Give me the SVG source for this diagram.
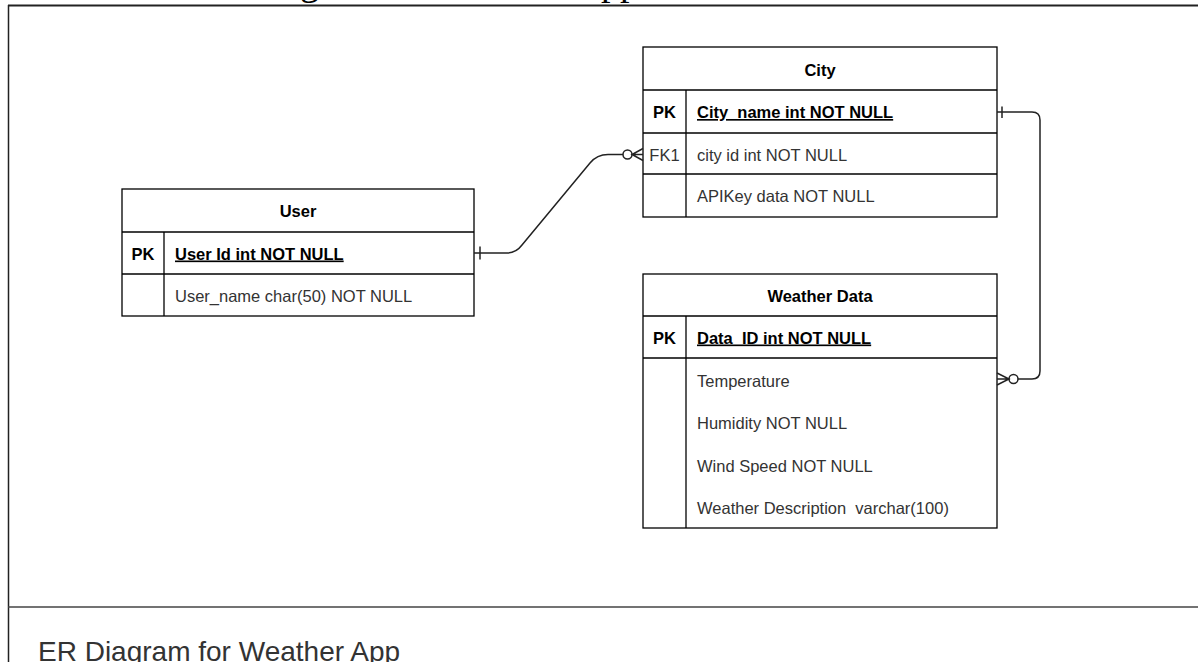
<svg xmlns="http://www.w3.org/2000/svg" width="1198" height="662" viewBox="0 0 1198 662">
<style>
.box{fill:#fff;stroke:#000;stroke-width:1.3}
.ln{fill:none;stroke:#000;stroke-width:1.3}
.hd{font-family:"Liberation Sans",Arial,sans-serif;font-size:16.5px;font-weight:bold;fill:#000;text-anchor:middle}
.pk{font-family:"Liberation Sans",Arial,sans-serif;font-size:16.5px;font-weight:bold;fill:#000}
.tx{font-family:"Liberation Sans",Arial,sans-serif;font-size:16.5px;fill:#333}
.mid{text-anchor:middle}
.u{text-decoration:underline}
.conn{fill:none;stroke:#222;stroke-width:1.5}
</style>
<rect width="1198" height="662" fill="#fff"/>
<g id="frame">
<text x="187" y="-5.5" font-family="Liberation Serif,Times New Roman,serif" font-size="38" fill="#000">ER Diagram for Weather App</text>
<line x1="8" y1="5.5" x2="1198" y2="5.5" stroke="#222" stroke-width="2"/>
<line x1="8.5" y1="5" x2="8.5" y2="662" stroke="#222" stroke-width="1.5"/>
<line x1="8" y1="607" x2="1198" y2="607" stroke="#444" stroke-width="1.5"/>
<text x="38" y="661" font-family="Liberation Sans,Arial,sans-serif" font-size="28" fill="#333">ER Diagram for Weather App</text>
</g>
<g id="city">
<rect class="box" x="643" y="47" width="354" height="170"/>
<line class="ln" x1="643" y1="90" x2="997" y2="90"/>
<line class="ln" x1="643" y1="133" x2="997" y2="133"/>
<line class="ln" x1="643" y1="174" x2="997" y2="174"/>
<line class="ln" x1="686" y1="90" x2="686" y2="217"/>
<text class="hd" x="820" y="76">City</text>
<text class="pk mid" x="664.5" y="118">PK</text>
<text class="pk u" x="697" y="118">City_name int NOT NULL</text>
<text class="tx mid" x="664.5" y="160.5">FK1</text>
<text class="tx" x="697" y="160.5">city id int NOT NULL</text>
<text class="tx" x="697" y="202">APIKey data NOT NULL</text>
</g>
<g id="user">
<rect class="box" x="122" y="189" width="352" height="127"/>
<line class="ln" x1="122" y1="232" x2="474" y2="232"/>
<line class="ln" x1="122" y1="274" x2="474" y2="274"/>
<line class="ln" x1="164" y1="232" x2="164" y2="316"/>
<text class="hd" x="298" y="217">User</text>
<text class="pk mid" x="143" y="259.5">PK</text>
<text class="pk u" x="175" y="259.5">User Id int NOT NULL</text>
<text class="tx" x="175" y="301.5">User_name char(50) NOT NULL</text>
</g>
<g id="weather">
<rect class="box" x="643" y="274" width="354" height="254"/>
<line class="ln" x1="643" y1="316" x2="997" y2="316"/>
<line class="ln" x1="643" y1="358" x2="997" y2="358"/>
<line class="ln" x1="686" y1="316" x2="686" y2="528"/>
<text class="hd" x="820" y="301.5">Weather Data</text>
<text class="pk mid" x="664.5" y="343.5">PK</text>
<text class="pk u" x="697" y="343.5">Data_ID int NOT NULL</text>
<text class="tx" x="697" y="386.5">Temperature</text>
<text class="tx" x="697" y="429">Humidity NOT NULL</text>
<text class="tx" x="697" y="471.5">Wind Speed NOT NULL</text>
<text class="tx" x="697" y="514" xml:space="preserve">Weather Description  varchar(100)</text>
</g>
<g id="connectors">
<path class="conn" d="M474,253 L507,253 Q516,253 522,245 L590,163 Q597,154.5 608,154.5 L623,154.5"/>
<line class="conn" x1="480" y1="246.5" x2="480" y2="259.5"/>
<circle class="conn" cx="627.5" cy="154.5" r="4.5" fill="#fff"/>
<path class="conn" d="M643,148.5 L632,154.5 L643,160.5 M632,154.5 L643,154.5"/>
<path class="conn" d="M997,112 L1032,112 Q1040,112 1040,120 L1040,371 Q1040,379 1032,379 L1018,379"/>
<line class="conn" x1="1002" y1="106.5" x2="1002" y2="118"/>
<circle class="conn" cx="1013.5" cy="379" r="4.5" fill="#fff"/>
<path class="conn" d="M997,373 L1009,379 L997,385 M1009,379 L997,379"/>
</g>
</svg>
